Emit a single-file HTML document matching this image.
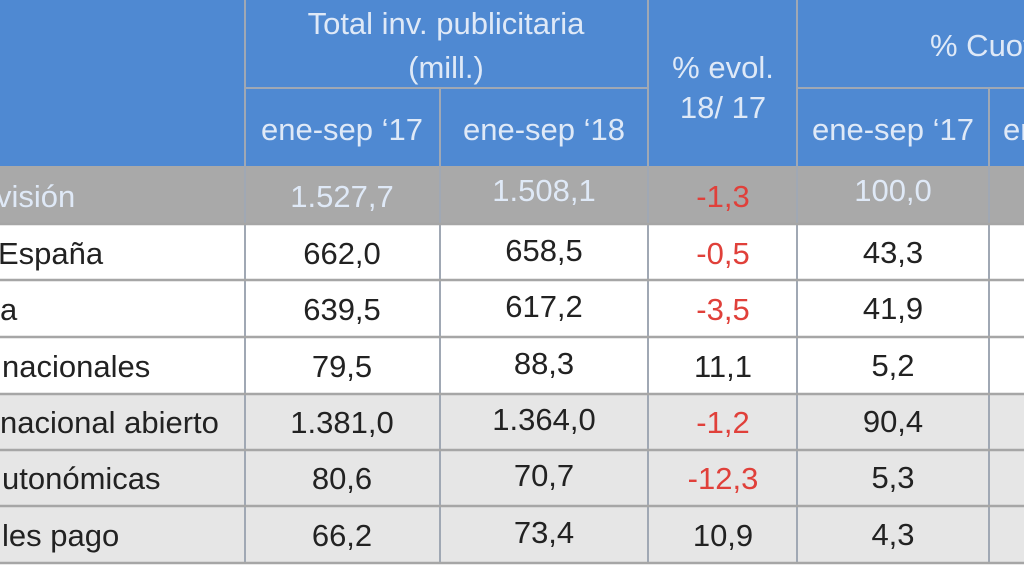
<!DOCTYPE html>
<html><head><meta charset="utf-8"><style>
body{margin:0;width:1024px;height:576px;overflow:hidden;background:#fff;font-family:"Liberation Sans",sans-serif;position:relative;}
.c{position:absolute;box-sizing:border-box;}
.t{position:absolute;white-space:nowrap;font-size:31px;line-height:34px;transform:translate(-50%,-50%);color:#222;}
.l{position:absolute;white-space:nowrap;font-size:31px;line-height:34px;transform:translateY(-50%);color:#222;}
.h{color:#dfe9f7;}
.r{color:#e0403a;}
</style></head><body>
<div class="c" style="left:0;top:0;width:1024px;height:166px;background:#4f89d2"></div>
<div class="c" style="left:0;top:166px;width:1024px;height:58px;background:#a9a9a9"></div>
<div class="c" style="left:0;top:394px;width:1024px;height:169px;background:#e6e6e6"></div>
<svg class="c" style="left:0;top:0" width="1024" height="576">
<g stroke="#a0a8b4" stroke-width="2">
<line x1="245" y1="88" x2="648" y2="88"/><line x1="797" y1="88" x2="1024" y2="88"/>
<line x1="245" y1="0" x2="245" y2="563"/><line x1="648" y1="0" x2="648" y2="563"/>
<line x1="797" y1="0" x2="797" y2="563"/><line x1="440" y1="88" x2="440" y2="563"/>
<line x1="989" y1="88" x2="989" y2="563"/>
</g>
<g stroke="#a6a6a6" stroke-width="2.5">
<line x1="0" y1="224" x2="1024" y2="224"/><line x1="0" y1="280" x2="1024" y2="280"/>
<line x1="0" y1="337" x2="1024" y2="337"/><line x1="0" y1="394" x2="1024" y2="394"/>
<line x1="0" y1="450" x2="1024" y2="450"/><line x1="0" y1="506" x2="1024" y2="506"/>
<line x1="0" y1="563" x2="1024" y2="563"/>
</g>
</svg>
<div class="t h" style="left:446px;top:24px">Total inv. publicitaria</div>
<div class="t h" style="left:446px;top:68px">(mill.)</div>
<div class="t h" style="left:723px;top:68px">% evol.</div>
<div class="t h" style="left:723px;top:108px">18/ 17</div>
<div class="l h" style="left:930px;top:46px">% Cuot</div>
<div class="t h" style="left:342px;top:130px">ene-sep ‘17</div>
<div class="t h" style="left:544px;top:130px">ene-sep ‘18</div>
<div class="t h" style="left:893px;top:130px">ene-sep ‘17</div>
<div class="l h" style="left:1003px;top:130px">en</div>

<div id="rows"></div>
<script>
const labels=["visión","España","a","nacionales","nacional abierto","utonómicas","les pago"];
const labelX=[-4,-2,0,2,0,2,2];
const v17=["1.527,7","662,0","639,5","79,5","1.381,0","80,6","66,2"];
const v18=["1.508,1","658,5","617,2","88,3","1.364,0","70,7","73,4"];
const evol=["-1,3","-0,5","-3,5","11,1","-1,2","-12,3","10,9"];
const cuota=["100,0","43,3","41,9","5,2","90,4","5,3","4,3"];
const rowY=[197,254,310,367,423,479,536];
const host=document.getElementById('rows');
function add(cls,x,y,txt,name){const d=document.createElement('div');d.className=cls;d.style.left=x+'px';d.style.top=y+'px';d.textContent=txt;


host.appendChild(d);}
labels.forEach((lab,i)=>{
 const tot=i===0;const col=tot?' h':'';
 add('l'+(tot?' h':''),labelX[i],rowY[i],lab,'row-label');
 add('t'+col,342,rowY[i],v17[i],'value-17');
 add('t'+col,544,rowY[i]-(tot?6:3),v18[i],'value-18');
 add('t'+(evol[i][0]==='-'?' r':''),723,rowY[i],evol[i],'value-evol');
 add('t'+col,893,rowY[i]-(tot?6:1),cuota[i],'value-cuota');
});
</script>
</body></html>
